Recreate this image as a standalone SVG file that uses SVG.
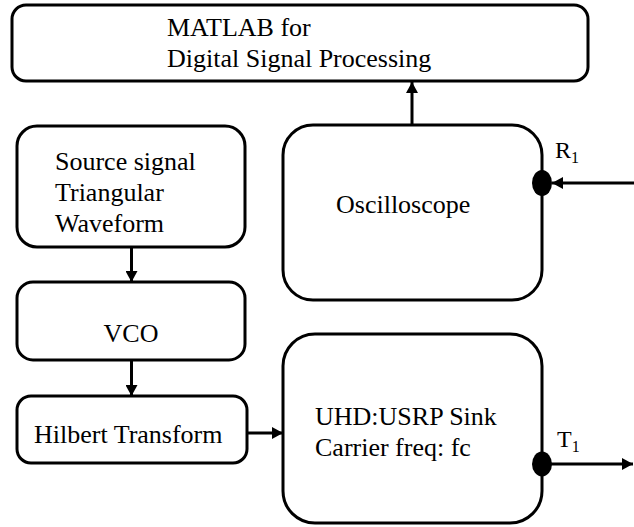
<svg xmlns="http://www.w3.org/2000/svg" width="634" height="527" viewBox="0 0 634 527">
  <style>
    .box { fill: #ffffff; stroke: #000000; stroke-width: 3; }
    .lbl { font-family: "Liberation Serif", "Times New Roman", serif; font-size: 26px; fill: #000000; }
    .port { font-family: "Liberation Serif", "Times New Roman", serif; font-size: 24px; fill: #000000; }
    .sub { font-family: "Liberation Serif", "Times New Roman", serif; font-size: 16px; fill: #000000; }
    .wire { fill: none; stroke: #000000; stroke-width: 3; }
  </style>
  <defs>
    <marker id="arr" markerUnits="userSpaceOnUse" markerWidth="11" markerHeight="12" refX="11" refY="6" orient="auto">
      <path d="M0,0 L11,6 L0,12 z" fill="#000000"/>
    </marker>
  </defs>
  <rect width="634" height="527" fill="#ffffff"/>

  <g id="matlab">
    <rect class="box" x="12" y="5" width="576" height="76" rx="14" ry="14"/>
    <text class="lbl" x="167" y="36">MATLAB for</text>
    <text class="lbl" x="167" y="67">Digital Signal Processing</text>
  </g>

  <g id="source">
    <rect class="box" x="17" y="126" width="228" height="121" rx="20" ry="20"/>
    <text class="lbl" x="55" y="170">Source signal</text>
    <text class="lbl" x="55" y="201">Triangular</text>
    <text class="lbl" x="55" y="232">Waveform</text>
  </g>

  <g id="vco">
    <rect class="box" x="17" y="282" width="228" height="78" rx="16" ry="16"/>
    <text class="lbl" x="131" y="342" text-anchor="middle">VCO</text>
  </g>

  <g id="hilbert">
    <rect class="box" x="17" y="396" width="230" height="67" rx="14" ry="14"/>
    <text class="lbl" x="34" y="443">Hilbert Transform</text>
  </g>

  <g id="oscilloscope">
    <rect class="box" x="283" y="125" width="259" height="175" rx="30" ry="30"/>
    <text class="lbl" x="336" y="213">Oscilloscope</text>
    <ellipse cx="542" cy="183" rx="10" ry="13" fill="#000000"/>
    <text class="port" x="555" y="158">R<tspan class="sub" dy="5">1</tspan></text>
  </g>

  <g id="usrp">
    <rect class="box" x="283" y="334" width="259" height="189" rx="32" ry="32"/>
    <text class="lbl" x="315" y="425">UHD:USRP Sink</text>
    <text class="lbl" x="315" y="456">Carrier freq: fc</text>
    <ellipse cx="542" cy="464" rx="10" ry="12.5" fill="#000000"/>
    <text class="port" x="557" y="447">T<tspan class="sub" dy="5">1</tspan></text>
  </g>

  <g id="connectors">
    <line class="wire" x1="131.5" y1="247" x2="131.5" y2="282" marker-end="url(#arr)"/>
    <line class="wire" x1="131.5" y1="360" x2="131.5" y2="396" marker-end="url(#arr)"/>
    <line class="wire" x1="247" y1="433" x2="283" y2="433" marker-end="url(#arr)"/>
    <line class="wire" x1="412" y1="125" x2="412" y2="82" marker-end="url(#arr)"/>
    <line class="wire" x1="634" y1="183" x2="552" y2="183" marker-end="url(#arr)"/>
    <line class="wire" x1="551" y1="464" x2="633" y2="464" marker-end="url(#arr)"/>
  </g>
</svg>
